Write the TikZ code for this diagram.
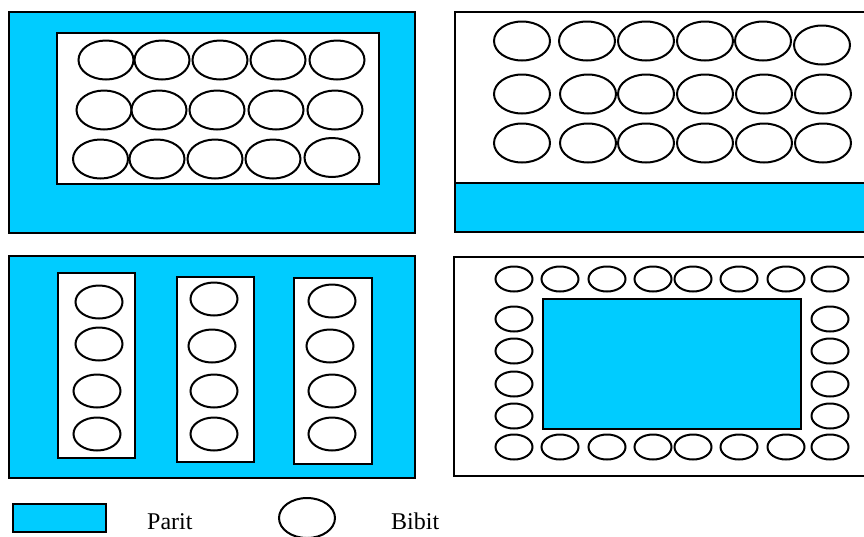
\documentclass[tikz,border=0pt]{standalone}
\usepackage{fontspec}
\setmainfont{Liberation Serif}
\usetikzlibrary{shapes.geometric}
\definecolor{parit}{HTML}{00CCFF}
\tikzset{
  paritbox/.style={draw=black, line width=2pt, fill=parit},
  whitebox/.style={draw=black, line width=2pt, fill=white},
  bibit/.style={ellipse, draw=black, line width=2pt, fill=white, inner sep=0pt},
  bA/.style={bibit, minimum width=55pt, minimum height=39pt},
  bB/.style={bibit, minimum width=56pt, minimum height=39pt},
  bC/.style={bibit, minimum width=47pt, minimum height=33pt},
  bD/.style={bibit, minimum width=37pt, minimum height=25pt},
  lbl/.style={anchor=base west, inner sep=0pt, font=\fontsize{24pt}{28pt}\selectfont}
}
\begin{document}
\begin{tikzpicture}[x=1pt,y=-1pt]
\useasboundingbox (0,0) rectangle (864,536);
\begin{scope}
\clip (0,0) rectangle (864,536);
% Panel 1
\draw[paritbox] (9,12) rectangle (415,233);
\draw[whitebox] (57,33) rectangle (379,184);
\foreach \x [count=\i] in {106,162,220,278,337} \node[bA] (pa1\i) at (\x,60) {};
\foreach \x [count=\i] in {104,159,217,276,335} \node[bA] (pa2\i) at (\x,110) {};
\foreach \x/\y [count=\i] in {100.5/159,157/159,215/159,273/159,332/157.5} \node[bA] (pa3\i) at (\x,\y) {};
% Panel 2
\draw[whitebox] (455,12) rectangle (868,232);
\draw[paritbox] (455,183) rectangle (868,232);
\foreach \x/\y [count=\i] in {522/41,587/41,646/41,705/41,763/41,822/45} \node[bB] (pb1\i) at (\x,\y) {};
\foreach \x [count=\i] in {522,588,646,705,764,823} \node[bB] (pb2\i) at (\x,94) {};
\foreach \x [count=\i] in {522,588,646,705,764,823} \node[bB] (pb3\i) at (\x,143) {};
% Panel 3
\draw[paritbox] (9,256) rectangle (415,478);
\draw[whitebox] (58,273) rectangle (135,458);
\draw[whitebox] (177,277) rectangle (254,462);
\draw[whitebox] (294,278) rectangle (372,464);
\foreach \x/\y [count=\i] in {99/302,99/344,97/391,97/434} \node[bC] (pc1\i) at (\x,\y) {};
\foreach \x/\y [count=\i] in {214/299,212/346,214/391,214/434} \node[bC] (pc2\i) at (\x,\y) {};
\foreach \x/\y [count=\i] in {332/301,330/346,332/391,332/434} \node[bC] (pc3\i) at (\x,\y) {};
% Panel 4
\draw[whitebox] (454,257) rectangle (868,476);
\draw[paritbox] (543,299) rectangle (801,429);
\foreach \x [count=\i] in {514,560,607,653,693,739,786,830} {
  \node[bD] (pdt\i) at (\x,279) {};
  \node[bD] (pdb\i) at (\x,447) {};
}
\foreach \y [count=\i] in {319,351,384,416} {
  \node[bD] (pdl\i) at (514,\y) {};
  \node[bD] (pdr\i) at (830,\y) {};
}
% Legend
\draw[paritbox] (13,504) rectangle (106,532);
\node[lbl] (tparit) at (147,529) {Parit};
\node[bB, minimum height=40pt] (legbibit) at (307,518) {};
\node[lbl] (tbibit) at (391,529) {Bibit};
\end{scope}
\end{tikzpicture}
\end{document}
